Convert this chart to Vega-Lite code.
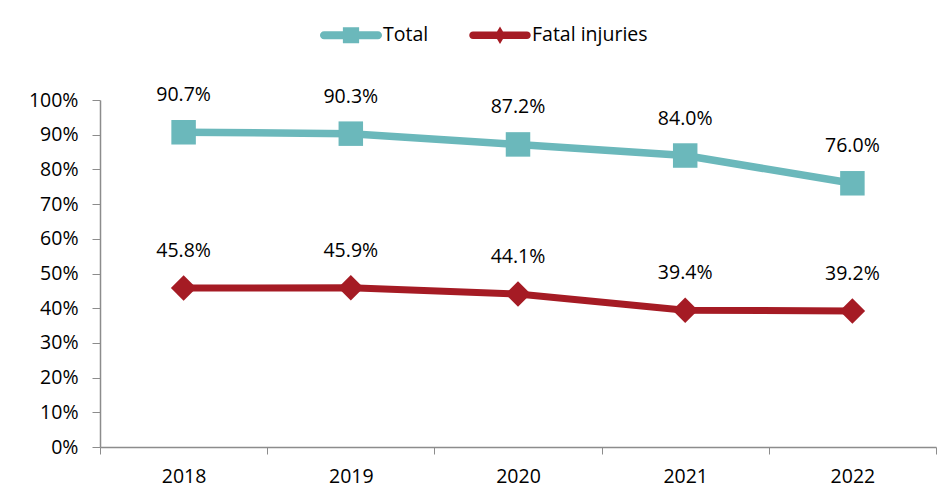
{
  "$schema": "https://vega.github.io/schema/vega-lite/v6.json",
  "width": 836,
  "height": 347,
  "autosize": {"type": "none"},
  "padding": {"left": 100, "top": 100, "right": 15, "bottom": 56},
  "background": "white",
  "config": {
    "view": {"stroke": null},
    "font": "Open Sans",
    "text": {"font": "Open Sans"},
    "axis": {"labelFont": "Open Sans", "labelFontSize": 19.5, "labelColor": "#000000", "domainColor": "#8C8C8C", "tickColor": "#8C8C8C", "grid": false, "title": null}
  },
  "data": {
    "values": [
      {"year": "2018", "series": "Total", "value": 0.907},
      {"year": "2019", "series": "Total", "value": 0.903},
      {"year": "2020", "series": "Total", "value": 0.872},
      {"year": "2021", "series": "Total", "value": 0.840},
      {"year": "2022", "series": "Total", "value": 0.760},
      {"year": "2018", "series": "Fatal injuries", "value": 0.458},
      {"year": "2019", "series": "Fatal injuries", "value": 0.459},
      {"year": "2020", "series": "Fatal injuries", "value": 0.441},
      {"year": "2021", "series": "Fatal injuries", "value": 0.394},
      {"year": "2022", "series": "Fatal injuries", "value": 0.392}
    ]
  },
  "encoding": {
    "x": {
      "field": "year", "type": "nominal",
      "scale": {"type": "band", "paddingInner": 0, "paddingOuter": 0},
      "axis": {"labelAngle": 0, "tickBand": "extent", "tickSize": 7, "labelPadding": 13, "domainWidth": 1.5}
    },
    "y": {
      "field": "value", "type": "quantitative",
      "scale": {"domain": [0, 1], "nice": false},
      "axis": {"format": ".0%", "values": [0, 0.1, 0.2, 0.3, 0.4, 0.5, 0.6, 0.7, 0.8, 0.9, 1], "tickSize": 8, "labelPadding": 14, "domainWidth": 1.5}
    }
  },
  "layer": [
    {
      "transform": [{"filter": "datum.series === 'Total'"}],
      "mark": {"type": "line", "color": "#6BB8BB", "strokeWidth": 7.5}
    },
    {
      "transform": [{"filter": "datum.series === 'Fatal injuries'"}],
      "mark": {"type": "line", "color": "#A51B24", "strokeWidth": 7}
    },
    {
      "transform": [{"filter": "datum.series === 'Total'"}],
      "mark": {"type": "point", "shape": "square", "filled": true, "opacity": 1, "color": "#6BB8BB", "size": 600}
    },
    {
      "transform": [{"filter": "datum.series === 'Fatal injuries'"}],
      "mark": {"type": "point", "shape": "diamond", "filled": true, "opacity": 1, "color": "#A51B24", "size": 650}
    },
    {
      "mark": {"type": "text", "fontSize": 19.5, "color": "#000000", "dy": -37, "baseline": "middle", "align": "center"},
      "encoding": {"text": {"field": "value", "type": "quantitative", "format": ".1%"}}
    },
    {
      "mark": {"type": "point", "filled": true, "opacity": 0},
      "encoding": {
        "color": {
          "field": "series", "type": "nominal",
          "scale": {"domain": ["Total", "Fatal injuries"], "range": ["#6BB8BB", "#A51B24"]},
          "legend": {
            "orient": "none", "legendX": 222, "legendY": -94, "direction": "horizontal",
            "title": null, "labelFontSize": 19.5, "labelFont": "Open Sans", "labelColor": "#000000",
            "symbolSize": 3364, "symbolOpacity": 1, "symbolStrokeWidth": 0, "labelOffset": 3, "columnPadding": 40
          }
        },
        "shape": {
          "field": "series", "type": "nominal",
          "scale": {"domain": ["Total", "Fatal injuries"], "range": [
            "M-0.93,-0.14H0.93A0.14,0.14 0 0 1 0.93,0.14H-0.93A0.14,0.14 0 0 1 -0.93,-0.14Z M-0.28,-0.28H0.28V0.28H-0.28Z",
            "M-0.93,-0.13H0.93A0.13,0.13 0 0 1 0.93,0.13H-0.93A0.13,0.13 0 0 1 -0.93,-0.13Z M0,-0.3L0.18,0L0,0.3L-0.18,0Z"
          ]},
          "legend": {
            "orient": "none", "legendX": 222, "legendY": -94, "direction": "horizontal",
            "title": null, "labelFontSize": 19.5, "labelFont": "Open Sans", "labelColor": "#000000",
            "symbolSize": 3364, "symbolOpacity": 1, "symbolStrokeWidth": 0, "labelOffset": 3, "columnPadding": 40
          }
        }
      }
    }
  ]
}
